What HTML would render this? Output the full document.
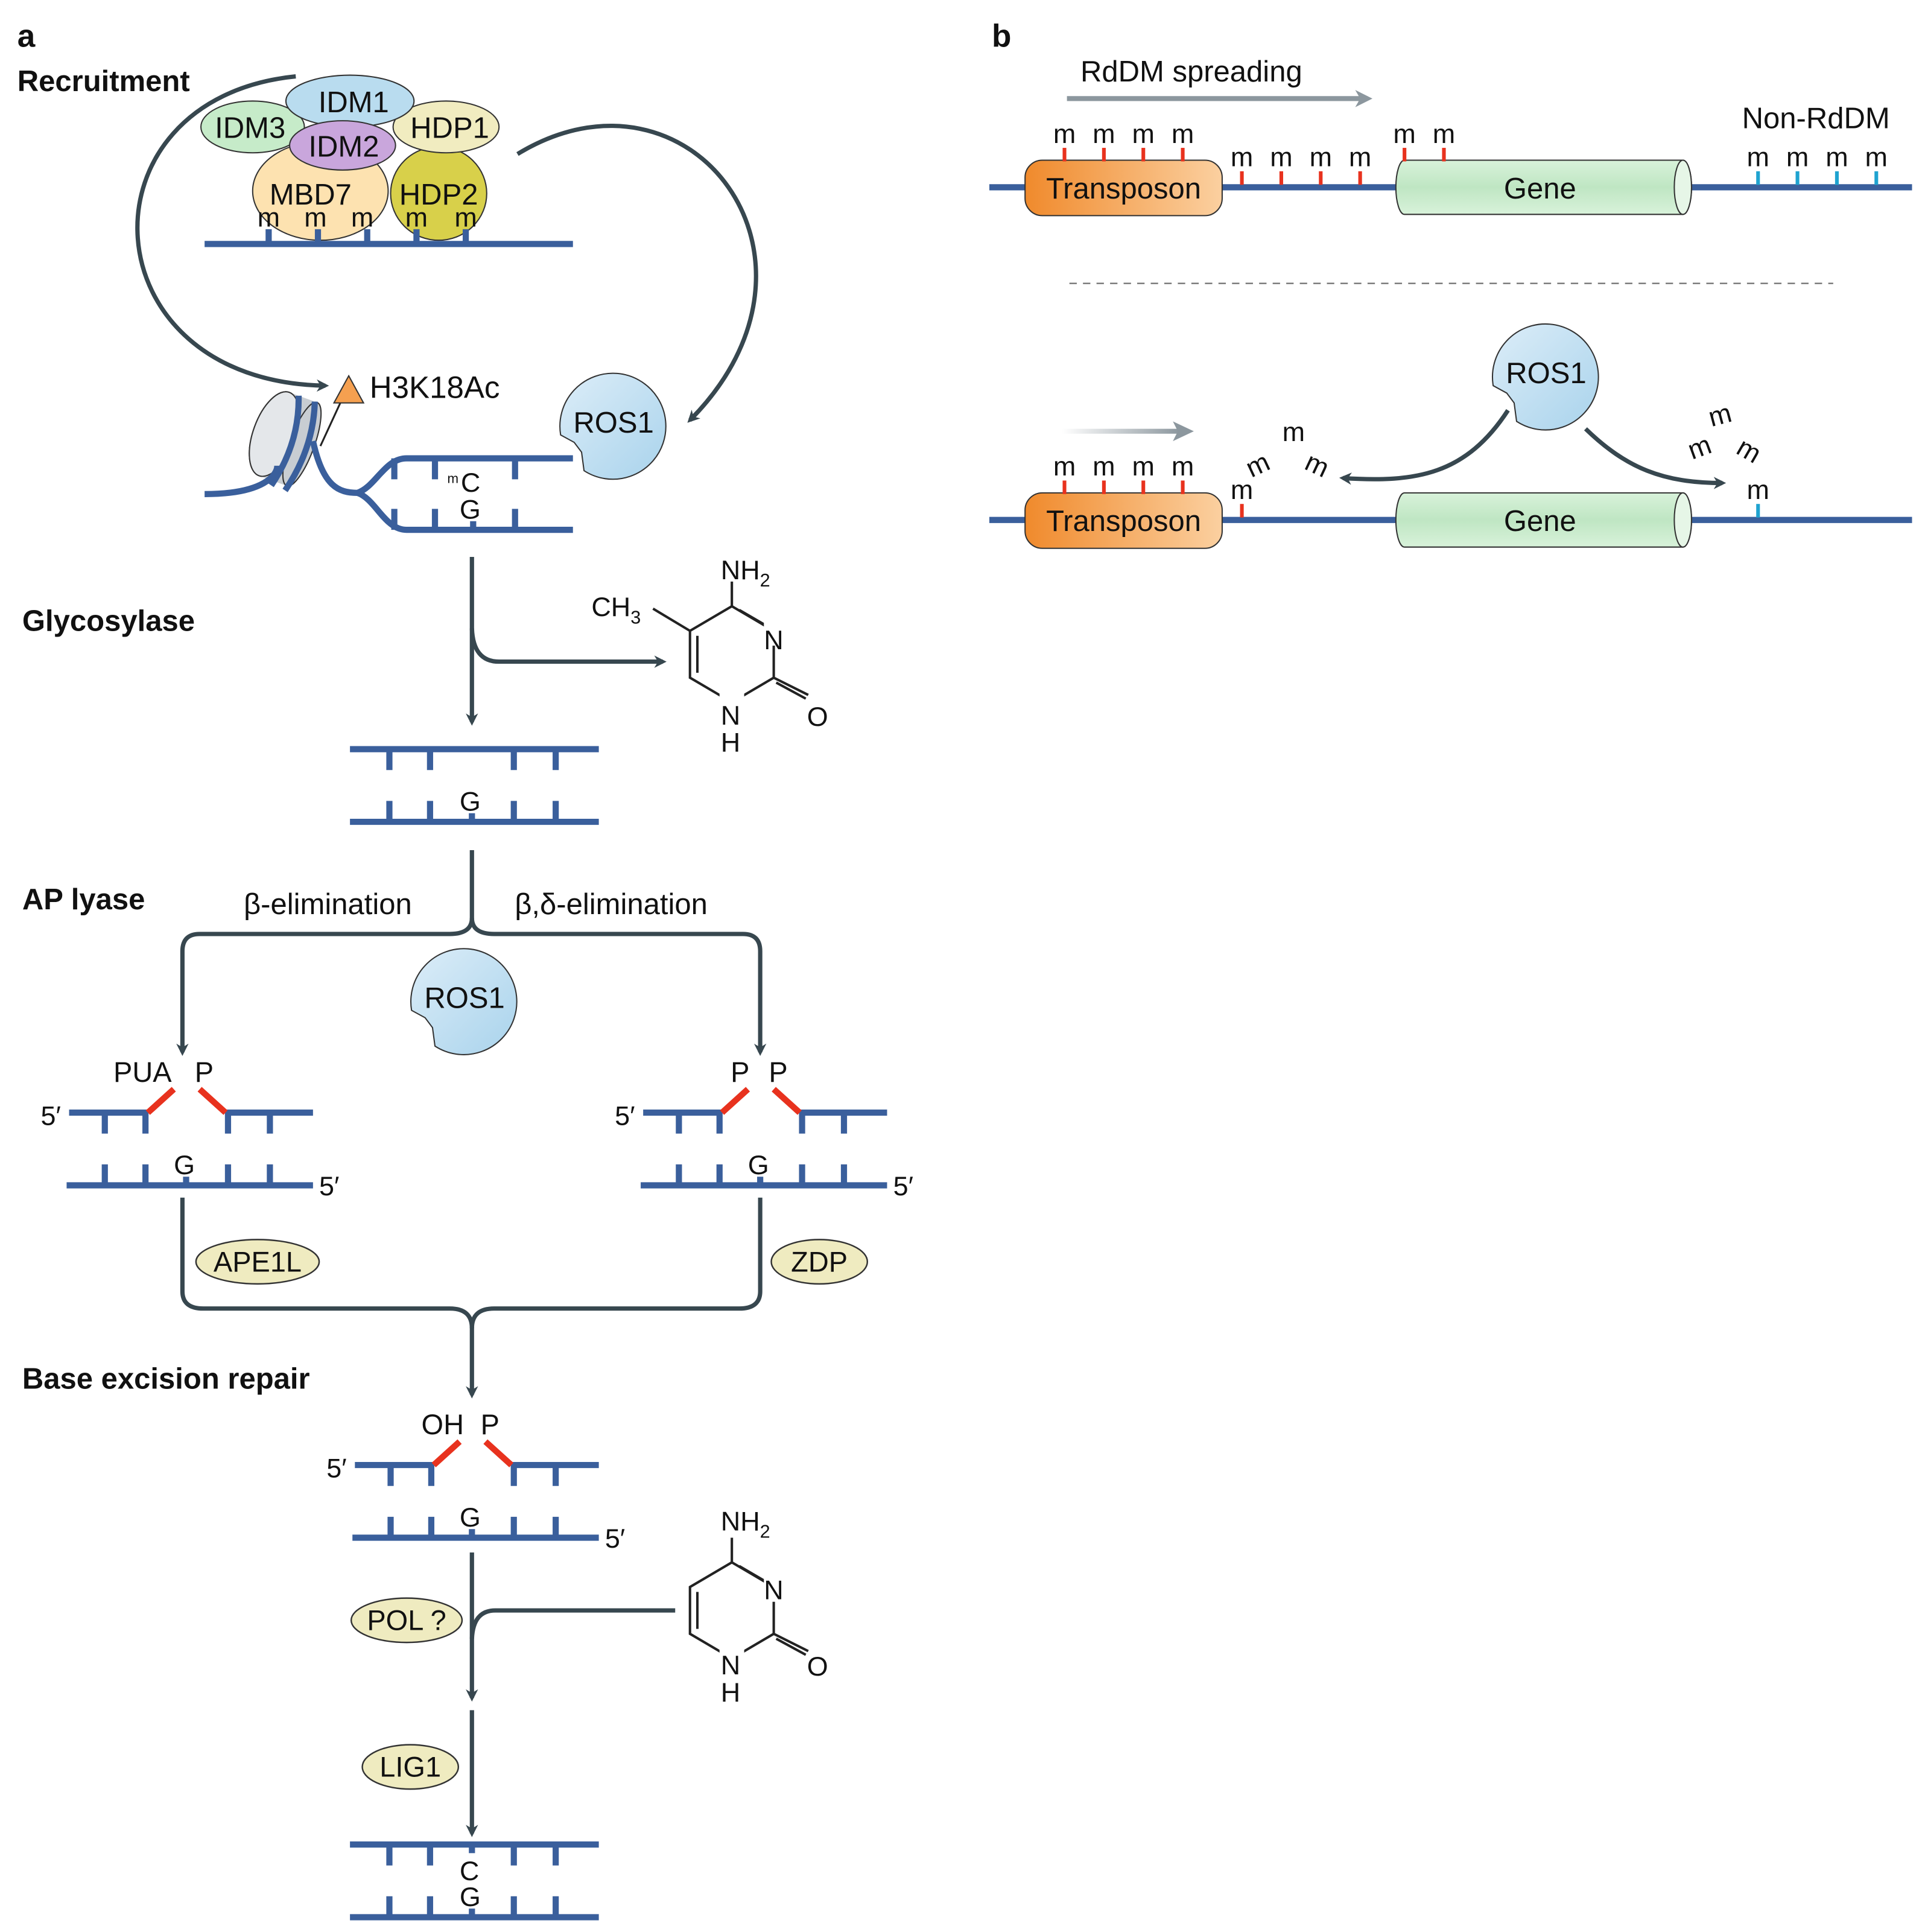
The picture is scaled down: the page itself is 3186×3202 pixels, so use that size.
<!DOCTYPE html>
<html><head><meta charset="utf-8"><style>
html,body{margin:0;padding:0;background:#fff}
svg{display:block}
text{font-family:"Liberation Sans",sans-serif;fill:#111}
.b{font-weight:bold}
</style></head><body>
<svg width="3186" height="3202" viewBox="0 0 1560 1568" xmlns="http://www.w3.org/2000/svg">
<defs>
<marker id="ah" markerWidth="10" markerHeight="10" refX="7" refY="5" orient="auto" markerUnits="userSpaceOnUse"><path d="M0,0 L10,5 L0,10 L3,5 Z" fill="#37474f"/></marker>
<marker id="ag" markerWidth="14" markerHeight="14" refX="10" refY="7" orient="auto" markerUnits="userSpaceOnUse"><path d="M0,0 L14,7 L0,14 L4,7 Z" fill="#8c979e"/></marker>
<linearGradient id="tg" x1="0" x2="1"><stop offset="0" stop-color="#f08a2c"/><stop offset="1" stop-color="#fbd0a0"/></linearGradient>
<linearGradient id="gg" x1="0" y1="0" x2="0" y2="1"><stop offset="0" stop-color="#d8f2da"/><stop offset="0.5" stop-color="#bfe6c3"/><stop offset="1" stop-color="#d8f2da"/></linearGradient>
<linearGradient id="rg" x1="0" y1="0" x2="1" y2="1"><stop offset="0" stop-color="#dcedf8"/><stop offset="1" stop-color="#a9d3ec"/></linearGradient>
<linearGradient id="sg" x1="0" x2="1"><stop offset="0" stop-color="#fff"/><stop offset="1" stop-color="#8c979e"/></linearGradient>
<g id="ros">
<path d="M-41,8 A43,43 0 1 1 -22,37 L-24,22 L-30,14 Z" fill="url(#rg)" stroke="#333" stroke-width="1"/>
<text x="2" y="6" font-size="24" text-anchor="middle">ROS1</text>
</g>
<g id="cyt" stroke="#222" stroke-width="2" fill="none">
<path d="M0,0 L34,20 L34,58 L0,78 L-34,58 L-34,20 Z"/>
<path d="M-28,24 L-28,54"/><path d="M6,3 L30,17"/>
<path d="M34,58 L62,72"/><path d="M36,62 L60,75"/>
<path d="M0,0 L0,-20"/>
<rect x="26" y="10" width="18" height="22" fill="#fff" stroke="none"/>
<rect x="-10" y="70" width="20" height="44" fill="#fff" stroke="none"/>
</g>
</defs>

<text x="14" y="38" font-size="26" class="b">a</text>
<text x="14" y="74" font-size="24" class="b">Recruitment</text>

<path d="M240,62 C60,80 70,310 264,313" fill="none" stroke="#37474f" stroke-width="3.5" marker-end="url(#ah)"/>
<path d="M420,125 C560,40 690,210 560,341" fill="none" stroke="#37474f" stroke-width="3.5" marker-end="url(#ah)"/>

<ellipse cx="260" cy="155" rx="55" ry="40" fill="#fde2b0" stroke="#333" stroke-width="1"/>
<ellipse cx="356" cy="157" rx="39" ry="38" fill="#d8d04a" stroke="#333" stroke-width="1"/>
<ellipse cx="205" cy="103" rx="42" ry="21" fill="#c6ebc9" stroke="#333" stroke-width="1"/>
<ellipse cx="362" cy="103" rx="43" ry="21" fill="#f1ecc0" stroke="#333" stroke-width="1"/>
<ellipse cx="284" cy="82" rx="52" ry="21" fill="#b9dcef" stroke="#333" stroke-width="1"/>
<ellipse cx="278" cy="118" rx="43" ry="20" fill="#c9a6dc" stroke="#333" stroke-width="1"/>
<g font-size="24" text-anchor="middle">
<text x="287" y="91">IDM1</text><text x="203" y="112">IDM3</text><text x="365" y="112">HDP1</text>
<text x="279" y="127">IDM2</text><text x="252" y="166">MBD7</text><text x="356" y="166">HDP2</text>
</g>
<line x1="166" y1="198" x2="465" y2="198" stroke="#3a5f9c" stroke-width="5"/>
<g stroke="#3a5f9c" stroke-width="5"><line x1="218" y1="198" x2="218" y2="186"/><line x1="258" y1="198" x2="258" y2="186"/><line x1="298" y1="198" x2="298" y2="186"/><line x1="338" y1="198" x2="338" y2="186"/><line x1="378" y1="198" x2="378" y2="186"/></g>
<g font-size="22" text-anchor="middle"><text x="218" y="184">m</text><text x="256" y="184">m</text><text x="294" y="184">m</text><text x="338" y="184">m</text><text x="378" y="184">m</text></g>

<g transform="translate(230,355) rotate(20)">
<ellipse cx="-8" cy="0" rx="17" ry="36" fill="#e4e7ea" stroke="#333" stroke-width="1"/>
<rect x="-8" y="-36" width="24" height="72" fill="#c8cdd2"/>
<ellipse cx="16" cy="0" rx="10" ry="36" fill="#c8cdd2" stroke="#333" stroke-width="1"/>
<ellipse cx="-8" cy="0" rx="17" ry="36" fill="#e4e7ea" stroke="#333" stroke-width="1"/>
<path d="M0,-36 Q14,0 4,40" stroke="#3a5f9c" stroke-width="5" fill="none"/>
<path d="M14,-36 Q26,0 16,40" stroke="#3a5f9c" stroke-width="5" fill="none"/>
</g>
<path d="M166,401 C215,401 225,385 225,378" stroke="#3a5f9c" stroke-width="5" fill="none"/>
<path d="M254,358 C262,395 275,400 290,400 C305,395 312,372 330,372 L465,372" stroke="#3a5f9c" stroke-width="5" fill="none"/>
<path d="M290,400 C305,405 312,430 330,430 L465,430" stroke="#3a5f9c" stroke-width="5" fill="none"/>
<g stroke="#3a5f9c" stroke-width="5"><line x1="320" y1="372" x2="320" y2="389"/><line x1="353" y1="372" x2="353" y2="389"/><line x1="418" y1="372" x2="418" y2="389"/><line x1="320" y1="430" x2="320" y2="413"/><line x1="353" y1="430" x2="353" y2="413"/><line x1="418" y1="430" x2="418" y2="413"/><line x1="384" y1="430" x2="384" y2="423"/></g>
<line x1="260" y1="362" x2="278" y2="323" stroke="#222" stroke-width="1.5"/>
<path d="M283,305 L295,327 L271,327 Z" fill="#f5a050" stroke="#333" stroke-width="1"/>
<text x="300" y="323" font-size="25">H3K18Ac</text>
<text x="363" y="392" font-size="11">m</text><text x="374" y="399" font-size="22">C</text><text x="373" y="421" font-size="22">G</text>
<use href="#ros" x="496" y="345"/>

<text x="18" y="512" font-size="24" class="b">Glycosylase</text>
<line x1="383" y1="452" x2="383" y2="586" stroke="#37474f" stroke-width="3.5" marker-end="url(#ah)"/>
<path d="M383,510 Q384,537 405,537 L538,537" stroke="#37474f" stroke-width="3.5" fill="none" marker-end="url(#ah)"/>
<use href="#cyt" x="594" y="492"/>
<line x1="560" y1="512" x2="530" y2="494" stroke="#222" stroke-width="2"/>
<g font-size="22"><text x="585" y="470">NH<tspan font-size="15" dy="6">2</tspan></text><text x="480" y="500">CH<tspan font-size="15" dy="6">3</tspan></text>
<text x="620" y="527">N</text><text x="655" y="589">O</text><text x="585" y="588">N</text><text x="585" y="610">H</text></g>

<g stroke="#3a5f9c" stroke-width="5"><line x1="284" y1="608" x2="486" y2="608"/><line x1="284" y1="667" x2="486" y2="667"/>
<line x1="316" y1="608" x2="316" y2="625"/><line x1="349" y1="608" x2="349" y2="625"/><line x1="417" y1="608" x2="417" y2="625"/><line x1="451" y1="608" x2="451" y2="625"/>
<line x1="316" y1="667" x2="316" y2="650"/><line x1="349" y1="667" x2="349" y2="650"/><line x1="383" y1="667" x2="383" y2="660"/><line x1="417" y1="667" x2="417" y2="650"/><line x1="451" y1="667" x2="451" y2="650"/></g>
<text x="373" y="658" font-size="22">G</text>

<text x="18" y="738" font-size="24" class="b">AP lyase</text>
<path d="M383,690 L383,745 Q383,758 365,758 L162,758 Q148,758 148,772 L148,854" stroke="#37474f" stroke-width="3.5" fill="none" marker-end="url(#ah)"/>
<path d="M383,745 Q383,758 401,758 L603,758 Q617,758 617,772 L617,854" stroke="#37474f" stroke-width="3.5" fill="none" marker-end="url(#ah)"/>
<text x="266" y="742" font-size="24" text-anchor="middle">β-elimination</text>
<text x="496" y="742" font-size="24" text-anchor="middle">β,δ-elimination</text>
<use href="#ros" x="375" y="812"/>

<g id="apl">
<g stroke="#3a5f9c" stroke-width="5"><line x1="56" y1="903" x2="120" y2="903"/><line x1="183" y1="903" x2="254" y2="903"/><line x1="54" y1="962" x2="254" y2="962"/>
<line x1="85" y1="903" x2="85" y2="920"/><line x1="118" y1="903" x2="118" y2="920"/><line x1="185" y1="903" x2="185" y2="920"/><line x1="219" y1="903" x2="219" y2="920"/>
<line x1="85" y1="962" x2="85" y2="945"/><line x1="118" y1="962" x2="118" y2="945"/><line x1="151" y1="962" x2="151" y2="955"/><line x1="185" y1="962" x2="185" y2="945"/><line x1="219" y1="962" x2="219" y2="945"/></g>
<g stroke="#e8321e" stroke-width="5"><line x1="120" y1="903" x2="141" y2="884"/><line x1="162" y1="884" x2="183" y2="903"/></g>
<text x="141" y="953" font-size="22">G</text>
<text x="33" y="913" font-size="22">5′</text><text x="259" y="970" font-size="22">5′</text>
</g>
<text x="92" y="878" font-size="23">PUA</text><text x="158" y="878" font-size="23">P</text>
<use href="#apl" x="466" y="0"/>
<text x="593" y="878" font-size="23">P</text><text x="624" y="878" font-size="23">P</text>

<path d="M148,972 L148,1048 Q148,1062 165,1062 L365,1062 Q383,1062 383,1078 L383,1132" stroke="#37474f" stroke-width="3.5" fill="none" marker-end="url(#ah)"/>
<path d="M617,972 L617,1048 Q617,1062 600,1062 L401,1062 Q383,1062 383,1078" stroke="#37474f" stroke-width="3.5" fill="none"/>
<g stroke="#333" stroke-width="1.2" fill="#efebc0">
<ellipse cx="209" cy="1024" rx="50" ry="18"/><ellipse cx="665" cy="1024" rx="39" ry="18"/>
<ellipse cx="330" cy="1315" rx="45" ry="18"/><ellipse cx="333" cy="1434" rx="39" ry="18"/></g>
<g font-size="23" text-anchor="middle"><text x="209" y="1032">APE1L</text><text x="665" y="1032">ZDP</text><text x="330" y="1323">POL ?</text><text x="333" y="1442">LIG1</text></g>

<text x="18" y="1127" font-size="24" class="b">Base excision repair</text>
<g stroke="#3a5f9c" stroke-width="5"><line x1="288" y1="1189" x2="352" y2="1189"/><line x1="415" y1="1189" x2="486" y2="1189"/><line x1="286" y1="1248" x2="486" y2="1248"/>
<line x1="317" y1="1189" x2="317" y2="1206"/><line x1="350" y1="1189" x2="350" y2="1206"/><line x1="417" y1="1189" x2="417" y2="1206"/><line x1="451" y1="1189" x2="451" y2="1206"/>
<line x1="317" y1="1248" x2="317" y2="1231"/><line x1="350" y1="1248" x2="350" y2="1231"/><line x1="383" y1="1248" x2="383" y2="1241"/><line x1="417" y1="1248" x2="417" y2="1231"/><line x1="451" y1="1248" x2="451" y2="1231"/></g>
<g stroke="#e8321e" stroke-width="5"><line x1="352" y1="1189" x2="373" y2="1170"/><line x1="394" y1="1170" x2="415" y2="1189"/></g>
<text x="342" y="1164" font-size="23">OH</text><text x="390" y="1164" font-size="23">P</text>
<text x="373" y="1239" font-size="22">G</text>
<text x="265" y="1199" font-size="22">5′</text><text x="491" y="1256" font-size="22">5′</text>

<line x1="383" y1="1260" x2="383" y2="1378" stroke="#37474f" stroke-width="3.5" marker-end="url(#ah)"/>
<path d="M548,1307 L402,1307 Q384,1307 383,1330" stroke="#37474f" stroke-width="3.5" fill="none"/>
<use href="#cyt" x="594" y="1268"/>
<g font-size="22"><text x="585" y="1242">NH<tspan font-size="15" dy="6">2</tspan></text>
<text x="620" y="1298">N</text><text x="655" y="1360">O</text><text x="585" y="1359">N</text><text x="585" y="1381">H</text></g>
<line x1="383" y1="1388" x2="383" y2="1488" stroke="#37474f" stroke-width="3.5" marker-end="url(#ah)"/>

<g stroke="#3a5f9c" stroke-width="5"><line x1="284" y1="1497" x2="486" y2="1497"/><line x1="284" y1="1556" x2="486" y2="1556"/>
<line x1="316" y1="1497" x2="316" y2="1514"/><line x1="349" y1="1497" x2="349" y2="1514"/><line x1="417" y1="1497" x2="417" y2="1514"/><line x1="451" y1="1497" x2="451" y2="1514"/><line x1="383" y1="1497" x2="383" y2="1504"/>
<line x1="316" y1="1556" x2="316" y2="1539"/><line x1="349" y1="1556" x2="349" y2="1539"/><line x1="383" y1="1556" x2="383" y2="1549"/><line x1="417" y1="1556" x2="417" y2="1539"/><line x1="451" y1="1556" x2="451" y2="1539"/></g>
<text x="373" y="1526" font-size="22">C</text><text x="373" y="1547" font-size="22">G</text>

<text x="805" y="38" font-size="26" class="b">b</text>
<text x="967" y="66" font-size="24" text-anchor="middle">RdDM spreading</text>
<line x1="866" y1="80" x2="1110" y2="80" stroke="#8c979e" stroke-width="4" marker-end="url(#ag)"/>
<text x="1474" y="104" font-size="24" text-anchor="middle">Non-RdDM</text>

<g id="track">
<line x1="803" y1="152" x2="1552" y2="152" stroke="#3a5f9c" stroke-width="5"/>
<rect x="832" y="130" width="160" height="45" rx="14" fill="url(#tg)" stroke="#333" stroke-width="1"/>
<text x="912" y="161" font-size="24" text-anchor="middle">Transposon</text>
<path d="M1140,130 L1366,130 A7,22 0 0 1 1366,174 L1140,174 A7,22 0 0 1 1140,130 Z" fill="url(#gg)" stroke="#333" stroke-width="1"/>
<ellipse cx="1366" cy="152" rx="7" ry="22" fill="#e6f6e7" stroke="#333" stroke-width="1"/>
<text x="1250" y="161" font-size="24" text-anchor="middle">Gene</text>
<g stroke="#e8321e" stroke-width="3"><line x1="864" y1="120" x2="864" y2="131"/><line x1="896" y1="120" x2="896" y2="131"/><line x1="928" y1="120" x2="928" y2="131"/><line x1="960" y1="120" x2="960" y2="131"/></g>
<g font-size="22" text-anchor="middle"><text x="864" y="116">m</text><text x="896" y="116">m</text><text x="928" y="116">m</text><text x="960" y="116">m</text></g>
</g>
<g stroke="#e8321e" stroke-width="3"><line x1="1008" y1="139" x2="1008" y2="150"/><line x1="1040" y1="139" x2="1040" y2="150"/><line x1="1072" y1="139" x2="1072" y2="150"/><line x1="1104" y1="139" x2="1104" y2="150"/><line x1="1140" y1="120" x2="1140" y2="131"/><line x1="1172" y1="120" x2="1172" y2="131"/></g>
<g stroke="#1fa3d0" stroke-width="3"><line x1="1427" y1="139" x2="1427" y2="150"/><line x1="1459" y1="139" x2="1459" y2="150"/><line x1="1491" y1="139" x2="1491" y2="150"/><line x1="1523" y1="139" x2="1523" y2="150"/></g>
<g font-size="22" text-anchor="middle"><text x="1008" y="135">m</text><text x="1040" y="135">m</text><text x="1072" y="135">m</text><text x="1104" y="135">m</text><text x="1140" y="116">m</text><text x="1172" y="116">m</text>
<text x="1427" y="135">m</text><text x="1459" y="135">m</text><text x="1491" y="135">m</text><text x="1523" y="135">m</text></g>

<line x1="868" y1="230" x2="1488" y2="230" stroke="#777" stroke-width="1.2" stroke-dasharray="6,5"/>

<use href="#track" x="0" y="270"/>
<rect x="862" y="348" width="96" height="4" fill="url(#sg)"/>
<path d="M952,342 L969,350 L952,358 L956,350 Z" fill="#8c979e"/>
<g stroke="#e8321e" stroke-width="3"><line x1="1008" y1="409" x2="1008" y2="420"/></g>
<g stroke="#1fa3d0" stroke-width="3"><line x1="1427" y1="409" x2="1427" y2="420"/></g>
<g font-size="22" text-anchor="middle"><text x="1008" y="405">m</text><text x="1427" y="405">m</text>
<text x="1024" y="384" transform="rotate(-25 1024 384)">m</text><text x="1050" y="358">m</text><text x="1066" y="384" transform="rotate(25 1066 384)">m</text>
<text x="1398" y="344" transform="rotate(-15 1398 344)">m</text><text x="1382" y="370" transform="rotate(-20 1382 370)">m</text><text x="1416" y="372" transform="rotate(30 1416 372)">m</text></g>
<use href="#ros" x="1253" y="305"/>
<path d="M1224,333 C1190,385 1150,392 1090,388" stroke="#37474f" stroke-width="3.5" fill="none" marker-end="url(#ah)"/>
<path d="M1287,348 C1320,380 1350,392 1398,392" stroke="#37474f" stroke-width="3.5" fill="none" marker-end="url(#ah)"/>
</svg>
</body></html>
